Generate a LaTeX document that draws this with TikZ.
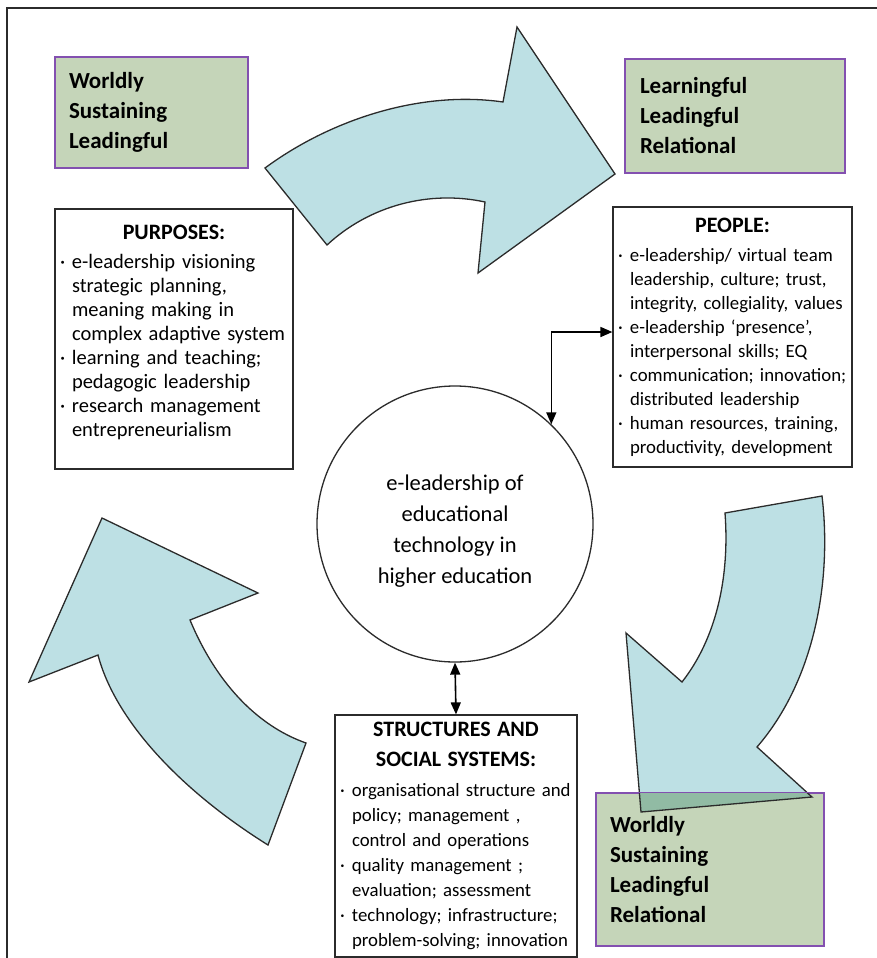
\documentclass[tikz,border=0pt]{standalone}
\usepackage{fontspec}
\setmainfont{Carlito}
\usetikzlibrary{arrows.meta}
\definecolor{arrowblue}{HTML}{BDE0E4}
\definecolor{boxgreen}{HTML}{C5D5B9}
\definecolor{boxpurple}{HTML}{8350B0}
\definecolor{overlapgreen}{HTML}{91BBA4}
\definecolor{edgegrey}{HTML}{2B2B2B}
\newcommand{\nl}{\hfil\break}
\newcommand{\itm}[1]{\par\hangindent=12pt\hangafter=1\noindent\makebox[12pt][l]{·}#1}
\newcommand{\boxtitle}[1]{{\centering\fontsize{22}{30}\selectfont\bfseries #1\par}\vspace{5pt}}

\begin{document}
\begin{tikzpicture}[x=1pt, y=-1pt,
   greenbox/.style={draw=boxpurple, fill=boxgreen, line width=1.3pt, align=left,
                    font=\fontsize{23}{30}\selectfont\bfseries},
   infobox/.style={draw=edgegrey, fill=white, line width=1.2pt, inner xsep=5pt,
                   inner ysep=0pt, align=left, font=\fontsize{18.8}{24}\selectfont},
   bigarrow/.style={draw=edgegrey, fill=arrowblue, line width=1.3pt, line join=miter},
   link/.style={line width=1.6pt, {Triangle[length=12pt,width=10pt]}-{Triangle[length=12pt,width=10pt]}}]
\useasboundingbox (0,0) rectangle (877,958);
\draw[line width=1.5pt, edgegrey] (877,8) -- (7,8) -- (7,958);

\filldraw[bigarrow] (265,168) .. controls (330,120) and (420,90) .. (503,102) -- (517,27)
   -- (615,174) -- (478,273) -- (485,202) .. controls (430,190) and (370,205) .. (327,245) -- cycle;
\filldraw[bigarrow] (822,496) .. controls (832,580) and (815,680) .. (757,747) -- (812,797)
   -- (641,812) -- (626,633) -- (682,682) .. controls (715,640) and (730,580) .. (725,513) -- cycle;
\filldraw[bigarrow] (306,743) .. controls (255,725) and (215,680) .. (190,620) -- (258,593)
   -- (102,518) -- (29,682) -- (98,655) .. controls (115,720) and (180,790) .. (268,845) -- cycle;

\node[greenbox, minimum width=193pt, minimum height=111pt, text width=165pt] (wsl) at (151.5,112.5)
   {Worldly\\Sustaining\\Leadingful};
\node[greenbox, minimum width=220pt, minimum height=114pt, text width=190pt] (lll) at (735,116)
   {Learningful\\Leadingful\\Relational};
\node[greenbox, minimum width=228pt, minimum height=153pt, text width=200pt] (wslr) at (710,869.5)
   {Worldly\\Sustaining\\Leadingful\\Relational};
\begin{scope}
  \clip (wslr.south west) rectangle (wslr.north east);
  \filldraw[bigarrow, fill=overlapgreen] (626,633) -- (641,812) -- (812,797) -- cycle;
\end{scope}
\draw[boxpurple, line width=1.3pt] (wslr.south west) rectangle (wslr.north east);

\node[infobox, minimum width=238pt, minimum height=260pt, text width=228pt,
      font=\fontsize{20.5}{24}\selectfont] (purp) at (174,339)
   {\boxtitle{PURPOSES:}%
    \itm{e-leadership visioning\nl strategic planning,\nl meaning making in\nl complex adaptive system}%
    \itm{learning and teaching;\nl pedagogic leadership}%
    \itm{research management\nl entrepreneurialism}\par\kern14pt};
\node[infobox, minimum width=239pt, minimum height=260pt, text width=229pt] (people) at (732.5,337)
   {\boxtitle{PEOPLE:}%
    \itm{e-leadership/ virtual team\nl leadership, culture; trust,\nl integrity, collegiality, values}%
    \itm{e-leadership ‘presence’,\nl interpersonal skills; EQ}%
    \itm{communication; innovation;\nl distributed leadership}%
    \itm{human resources, training,\nl productivity, development}\par};
\node[infobox, minimum width=242pt, minimum height=242pt, text width=232pt,
      font=\fontsize{18.8}{25}\selectfont] (struct) at (456,836)
   {\boxtitle{STRUCTURES AND\\SOCIAL SYSTEMS:}%
    \itm{organisational structure and\nl policy; management ,\nl control and operations}%
    \itm{quality management ;\nl evaluation; assessment}%
    \itm{technology; infrastructure;\nl problem-solving; innovation}\par};

\node[circle, draw=edgegrey, fill=white, line width=1.3pt, minimum size=276pt, inner sep=0pt] (core) at (455,524) {};
\node[align=center, font=\fontsize{22.5}{31}\selectfont] (coretext) at ([yshift=-7pt]core.center)
   {e-leadership of\\educational\\technology in\\higher education};

\draw[link] (core.46) |- ([yshift=5pt]people.west);
\draw[link] (core.south) -- (struct.north);
\end{tikzpicture}
\end{document}
